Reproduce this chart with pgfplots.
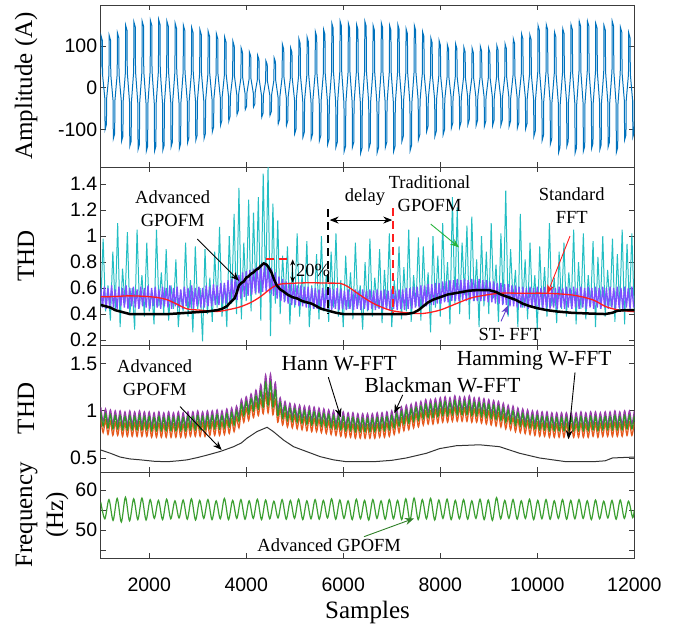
\documentclass[border=0pt]{standalone}
\usepackage{pgfplots}
\pgfplotsset{compat=1.18}
\usepackage{pgfplotstable}
\usepackage{fontspec}
\setmainfont{Liberation Serif}
\newfontfamily\sansf{Liberation Sans}
\usetikzlibrary{arrows.meta}

\definecolor{mblue}{RGB}{0,114,189}
\definecolor{mcyan}{RGB}{35,190,195}
\definecolor{stpurple}{RGB}{125,80,255}
\definecolor{mred}{RGB}{255,30,30}
\definecolor{hpurple}{RGB}{150,60,170}
\definecolor{bgreen}{RGB}{50,150,40}
\definecolor{horange}{RGB}{230,90,30}
\definecolor{fgreen}{RGB}{60,160,50}
\definecolor{agreen}{RGB}{40,180,60}
\definecolor{frame}{RGB}{60,60,60}

% frequency (Hz) of Advanced GPOFM
\pgfplotstableread{
s f
1000 57.0
1085 52.8
1170 57.6
1255 52.4
1340 57.9
1425 52.0
1510 58.2
1595 52.3
1680 57.8
1765 52.6
1850 58.0
1935 52.5
2020 57.6
2105 52.9
2190 57.4
2275 52.6
2360 57.7
2445 52.8
2530 57.3
2615 53.0
2700 57.5
2785 52.7
2870 57.8
2955 52.5
3040 57.4
3125 52.9
3210 57.6
3295 52.6
3380 57.3
3465 52.8
3550 57.9
3635 52.6
3720 57.4
3805 52.9
3890 57.6
3975 52.7
4060 57.3
4145 52.9
4230 57.7
4315 52.6
4400 57.5
4485 52.8
4570 57.2
4655 53.0
4740 57.6
4825 52.7
4910 57.4
4995 52.9
5080 57.7
5165 52.6
5250 57.3
5335 52.8
5420 57.6
5505 52.7
5590 57.4
5675 53.0
5760 57.8
5845 52.7
5930 57.5
6015 52.9
6100 57.3
6185 52.6
6270 57.7
6355 52.8
6440 57.4
6525 52.5
6610 57.6
6695 52.9
6780 57.3
6865 52.7
6950 57.6
7035 52.8
7120 57.4
7205 52.6
7290 57.8
7375 52.4
7460 58.0
7545 52.6
7630 57.6
7715 52.8
7800 57.9
7885 52.5
7970 57.5
8055 52.9
8140 57.7
8225 52.6
8310 57.4
8395 52.8
8480 57.6
8565 52.7
8650 57.3
8735 52.9
8820 57.7
8905 52.6
8990 57.5
9075 52.4
9160 58.1
9245 52.8
9330 57.4
9415 52.9
9500 57.6
9585 52.7
9670 57.3
9755 52.9
9840 57.7
9925 52.6
10010 57.4
10095 52.8
10180 57.6
10265 52.7
10350 57.3
10435 52.9
10520 57.6
10605 52.7
10690 57.4
10775 52.8
10860 57.6
10945 52.9
11030 57.3
11115 52.6
11200 57.5
11285 52.8
11370 57.2
11455 53.0
11540 57.4
11625 52.7
11710 57.5
11795 52.9
11880 57.2
11965 53.1
12000 55.0
}\fdata

% windowed FFT THD: Hann (h), Blackman (g), Hamming (o)
\pgfplotstableread{
s h g o
1000 1.04 0.99 0.92
1050 0.89 0.84 0.77
1100 1.02 0.97 0.90
1150 0.87 0.82 0.75
1200 1.01 0.96 0.89
1250 0.86 0.81 0.74
1300 1.00 0.95 0.88
1350 0.86 0.81 0.74
1400 1.00 0.95 0.88
1450 0.85 0.80 0.73
1500 0.99 0.94 0.87
1550 0.85 0.80 0.73
1600 1.00 0.95 0.88
1650 0.85 0.80 0.73
1700 0.99 0.94 0.87
1750 0.85 0.80 0.73
1800 1.00 0.95 0.88
1850 0.85 0.80 0.73
1900 0.99 0.94 0.87
1950 0.85 0.80 0.73
2000 0.99 0.94 0.87
2050 0.84 0.79 0.72
2100 0.98 0.93 0.86
2150 0.84 0.79 0.72
2200 0.99 0.94 0.87
2250 0.84 0.79 0.72
2300 0.98 0.93 0.86
2350 0.84 0.79 0.72
2400 0.99 0.94 0.87
2450 0.84 0.79 0.72
2500 0.98 0.93 0.86
2550 0.84 0.79 0.72
2600 0.99 0.94 0.87
2650 0.84 0.79 0.72
2700 0.98 0.93 0.86
2750 0.84 0.79 0.72
2800 0.99 0.94 0.87
2850 0.85 0.80 0.73
2900 0.99 0.94 0.87
2950 0.85 0.80 0.73
3000 1.00 0.95 0.88
3050 0.85 0.80 0.73
3100 0.99 0.94 0.87
3150 0.85 0.80 0.73
3200 1.00 0.95 0.88
3250 0.86 0.81 0.74
3300 1.00 0.95 0.88
3350 0.86 0.81 0.74
3400 1.01 0.96 0.89
3450 0.86 0.81 0.74
3500 1.00 0.95 0.88
3550 0.87 0.82 0.75
3600 1.02 0.97 0.90
3650 0.88 0.83 0.76
3700 1.03 0.98 0.91
3750 0.90 0.85 0.78
3800 1.05 1.00 0.93
3850 0.94 0.89 0.82
3900 1.12 1.07 1.00
3950 1.00 0.95 0.88
4000 1.15 1.10 1.03
4050 1.02 0.97 0.90
4100 1.18 1.13 1.06
4150 1.05 1.00 0.93
4200 1.22 1.16 1.09
4250 1.08 1.02 0.95
4300 1.28 1.21 1.12
4350 1.10 1.04 0.97
4400 1.38 1.30 1.18
4450 1.12 1.06 0.98
4500 1.39 1.30 1.18
4550 1.10 1.04 0.96
4600 1.30 1.22 1.12
4650 1.00 0.95 0.88
4700 1.14 1.09 1.02
4750 0.97 0.92 0.85
4800 1.10 1.05 0.98
4850 0.95 0.90 0.83
4900 1.08 1.03 0.96
4950 0.94 0.89 0.82
5000 1.07 1.02 0.95
5050 0.93 0.88 0.81
5100 1.06 1.01 0.94
5150 0.92 0.87 0.80
5200 1.05 1.00 0.93
5250 0.91 0.86 0.79
5300 1.05 1.00 0.93
5350 0.90 0.85 0.78
5400 1.04 0.99 0.92
5450 0.90 0.85 0.78
5500 1.03 0.98 0.91
5550 0.89 0.84 0.77
5600 1.02 0.97 0.90
5650 0.88 0.83 0.76
5700 1.01 0.96 0.89
5750 0.87 0.82 0.75
5800 1.00 0.95 0.88
5850 0.86 0.81 0.74
5900 0.99 0.94 0.87
5950 0.85 0.80 0.73
6000 0.99 0.94 0.87
6050 0.84 0.79 0.72
6100 0.98 0.93 0.86
6150 0.84 0.79 0.72
6200 0.98 0.93 0.86
6250 0.83 0.78 0.71
6300 0.97 0.92 0.85
6350 0.83 0.78 0.71
6400 0.97 0.92 0.85
6450 0.83 0.78 0.71
6500 0.97 0.92 0.85
6550 0.83 0.78 0.71
6600 0.97 0.92 0.85
6650 0.83 0.78 0.71
6700 0.98 0.93 0.86
6750 0.84 0.79 0.72
6800 0.98 0.93 0.86
6850 0.84 0.79 0.72
6900 0.99 0.94 0.87
6950 0.85 0.80 0.73
7000 1.00 0.95 0.88
7050 0.87 0.82 0.75
7100 1.02 0.97 0.90
7150 0.89 0.84 0.77
7200 1.04 0.99 0.92
7250 0.91 0.86 0.79
7300 1.06 1.01 0.94
7350 0.92 0.87 0.80
7400 1.07 1.02 0.95
7450 0.94 0.89 0.82
7500 1.09 1.04 0.97
7550 0.95 0.90 0.83
7600 1.10 1.05 0.98
7650 0.97 0.92 0.85
7700 1.12 1.07 1.00
7750 0.98 0.93 0.86
7800 1.12 1.07 1.00
7850 0.98 0.93 0.86
7900 1.13 1.08 1.01
7950 0.99 0.94 0.87
8000 1.14 1.09 1.02
8050 1.00 0.95 0.88
8100 1.15 1.10 1.03
8150 1.00 0.95 0.88
8200 1.14 1.09 1.02
8250 1.01 0.96 0.89
8300 1.16 1.11 1.04
8350 1.01 0.96 0.89
8400 1.15 1.10 1.03
8450 1.01 0.96 0.89
8500 1.15 1.10 1.03
8550 1.01 0.96 0.89
8600 1.16 1.11 1.04
8650 1.00 0.95 0.88
8700 1.14 1.09 1.02
8750 1.00 0.95 0.88
8800 1.14 1.09 1.02
8850 0.99 0.94 0.87
8900 1.13 1.08 1.01
8950 0.98 0.93 0.86
9000 1.12 1.07 1.00
9050 0.97 0.92 0.85
9100 1.11 1.06 0.99
9150 0.96 0.91 0.84
9200 1.10 1.05 0.98
9250 0.95 0.90 0.83
9300 1.08 1.03 0.96
9350 0.93 0.88 0.81
9400 1.06 1.01 0.94
9450 0.92 0.87 0.80
9500 1.05 1.00 0.93
9550 0.90 0.85 0.78
9600 1.03 0.98 0.91
9650 0.89 0.84 0.77
9700 1.02 0.97 0.90
9750 0.88 0.83 0.76
9800 1.01 0.96 0.89
9850 0.87 0.82 0.75
9900 1.00 0.95 0.88
9950 0.86 0.81 0.74
10000 1.00 0.95 0.88
10050 0.85 0.80 0.73
10100 0.99 0.94 0.87
10150 0.85 0.80 0.73
10200 0.99 0.94 0.87
10250 0.84 0.79 0.72
10300 0.98 0.93 0.86
10350 0.84 0.79 0.72
10400 0.98 0.93 0.86
10450 0.84 0.79 0.72
10500 0.98 0.93 0.86
10550 0.84 0.79 0.72
10600 0.98 0.93 0.86
10650 0.84 0.79 0.72
10700 0.98 0.93 0.86
10750 0.84 0.79 0.72
10800 0.98 0.93 0.86
10850 0.84 0.79 0.72
10900 0.99 0.94 0.87
10950 0.84 0.79 0.72
11000 0.98 0.93 0.86
11050 0.84 0.79 0.72
11100 0.99 0.94 0.87
11150 0.85 0.80 0.73
11200 0.99 0.94 0.87
11250 0.84 0.79 0.72
11300 0.98 0.93 0.86
11350 0.85 0.80 0.73
11400 0.99 0.94 0.87
11450 0.85 0.80 0.73
11500 0.99 0.94 0.87
11550 0.85 0.80 0.73
11600 1.00 0.95 0.88
11650 0.85 0.80 0.73
11700 0.99 0.94 0.87
11750 0.85 0.80 0.73
11800 1.00 0.95 0.88
11850 0.86 0.81 0.74
11900 1.00 0.95 0.88
11950 0.86 0.81 0.74
12000 1.00 0.95 0.88
}\wdata

\newcommand{\tickfont}{\fontsize{19.5}{23}\selectfont\sansf}
\newcommand{\labfont}{\fontsize{25}{31}\selectfont}
\newcommand{\annfont}{\fontsize{18.5}{23}\selectfont}
\newcommand{\annfontb}{\fontsize{21.5}{25}\selectfont}

\tikzset{arr/.style={-{Stealth[length=9pt,width=7pt]}, line width=0.9pt}}

\pgfplotsset{
  panel/.style={
    scale only axis, width=533.6pt, anchor=south west,
    xmin=1000, xmax=12000, scaled x ticks=false, scaled y ticks=false,
    xtick={2000,4000,6000,8000,10000,12000}, xticklabels={},
    tick align=inside, major tick length=5pt,
    axis line style={draw=frame, line width=0.9pt},
    every tick/.style={draw=frame, line width=0.9pt},
    tick label style={font=\tickfont},
    every axis y label/.style={at={(axis description cs:-0.14,0.5)}, rotate=90, anchor=center, font=\labfont},
    clip mode=individual,
  },
}

\begin{document}
\begin{tikzpicture}
\useasboundingbox (0,0) rectangle (696pt,625pt);

% ---------------- Panel 1
\begin{axis}[panel, at={(100.7pt,458pt)}, height=162pt,
  ymin=-190, ymax=199, ytick={-100,0,100}, yticklabels={-100,0,100},
  ylabel={Amplitude (A)}]
\addplot[mblue, line width=1pt] coordinates {
(1000,32)(1005,126)(1033,114)(1038,32)(1085,-25)(1090,-100)(1118,-88)(1123,-25)
(1170,32)(1175,126)(1203,114)(1208,32)(1255,-31)(1260,-122)(1288,-110)(1293,-31)
(1340,33)(1345,132)(1373,120)(1378,33)(1425,-32)(1430,-128)(1458,-116)(1463,-32)
(1510,38)(1515,150)(1543,138)(1548,38)(1595,-35)(1600,-140)(1628,-128)(1633,-35)
(1680,40)(1685,158)(1713,146)(1718,40)(1765,-37)(1770,-148)(1798,-136)(1803,-37)
(1850,40)(1855,160)(1883,148)(1888,40)(1935,-38)(1940,-152)(1968,-140)(1973,-38)
(2020,41)(2025,162)(2053,150)(2058,41)(2105,-38)(2110,-152)(2138,-140)(2143,-38)
(2190,41)(2195,164)(2223,152)(2228,41)(2275,-38)(2280,-150)(2308,-138)(2313,-38)
(2360,40)(2365,160)(2393,148)(2398,40)(2445,-36)(2450,-142)(2478,-130)(2483,-36)
(2530,39)(2535,155)(2563,143)(2568,39)(2615,-37)(2620,-146)(2648,-134)(2653,-37)
(2700,38)(2705,150)(2733,138)(2738,38)(2785,-33)(2790,-132)(2818,-120)(2823,-33)
(2870,36)(2875,145)(2903,133)(2908,36)(2955,-32)(2960,-126)(2988,-114)(2993,-32)
(3040,35)(3045,140)(3073,128)(3078,35)(3125,-31)(3130,-122)(3158,-110)(3163,-31)
(3210,34)(3215,136)(3243,124)(3248,34)(3295,-27)(3300,-106)(3328,-94)(3333,-27)
(3380,33)(3385,130)(3413,118)(3418,33)(3465,-23)(3470,-90)(3498,-78)(3503,-23)
(3550,31)(3555,122)(3583,110)(3588,31)(3635,-20)(3640,-80)(3668,-68)(3673,-20)
(3720,28)(3725,112)(3753,100)(3758,28)(3805,-16)(3810,-64)(3838,-54)(3843,-16)
(3890,24)(3895,96)(3923,85)(3928,24)(3975,-13)(3980,-52)(4008,-44)(4013,-13)
(4060,22)(4065,86)(4093,76)(4098,22)(4145,-12)(4150,-46)(4178,-38)(4183,-12)
(4230,20)(4235,78)(4263,68)(4268,20)(4315,-18)(4320,-70)(4348,-60)(4353,-18)
(4400,16)(4405,65)(4433,56)(4438,16)(4485,-17)(4490,-66)(4518,-57)(4523,-17)
(4570,18)(4575,72)(4603,62)(4608,18)(4655,-22)(4660,-86)(4688,-76)(4693,-22)
(4740,26)(4745,105)(4773,93)(4778,26)(4825,-23)(4830,-90)(4858,-78)(4863,-23)
(4910,24)(4915,96)(4943,85)(4948,24)(4995,-28)(5000,-110)(5028,-98)(5033,-28)
(5080,30)(5085,118)(5113,106)(5118,30)(5165,-30)(5170,-118)(5198,-106)(5203,-30)
(5250,31)(5255,122)(5283,110)(5288,31)(5335,-31)(5340,-122)(5368,-110)(5373,-31)
(5420,34)(5425,135)(5453,123)(5458,34)(5505,-32)(5510,-126)(5538,-114)(5543,-32)
(5590,35)(5595,140)(5623,128)(5628,35)(5675,-34)(5680,-135)(5708,-123)(5713,-34)
(5760,39)(5765,155)(5793,143)(5798,39)(5845,-36)(5850,-142)(5878,-130)(5883,-36)
(5930,40)(5935,160)(5963,148)(5968,40)(6015,-38)(6020,-152)(6048,-140)(6053,-38)
(6100,39)(6105,155)(6133,143)(6138,39)(6185,-36)(6190,-142)(6218,-130)(6223,-36)
(6270,38)(6275,152)(6303,140)(6308,38)(6355,-39)(6360,-156)(6388,-144)(6393,-39)
(6440,40)(6445,160)(6473,148)(6478,40)(6525,-36)(6530,-145)(6558,-133)(6563,-36)
(6610,38)(6615,150)(6643,138)(6648,38)(6695,-39)(6700,-155)(6728,-143)(6733,-39)
(6780,39)(6785,156)(6813,144)(6818,39)(6865,-36)(6870,-142)(6898,-130)(6903,-36)
(6950,38)(6955,150)(6983,138)(6988,38)(7035,-38)(7040,-152)(7068,-140)(7073,-38)
(7120,38)(7125,152)(7153,140)(7158,38)(7205,-32)(7210,-128)(7238,-116)(7243,-32)
(7290,36)(7295,142)(7323,130)(7328,36)(7375,-38)(7380,-150)(7408,-138)(7413,-38)
(7460,38)(7465,150)(7493,138)(7498,38)(7545,-31)(7550,-124)(7578,-112)(7583,-31)
(7630,34)(7635,135)(7663,123)(7668,34)(7715,-26)(7720,-104)(7748,-92)(7753,-26)
(7800,30)(7805,120)(7833,108)(7838,30)(7885,-29)(7890,-116)(7918,-104)(7923,-29)
(7970,29)(7975,114)(8003,102)(8008,29)(8055,-28)(8060,-112)(8088,-100)(8093,-28)
(8140,26)(8145,104)(8173,92)(8178,26)(8225,-24)(8230,-96)(8258,-84)(8263,-24)
(8310,27)(8315,106)(8343,94)(8348,27)(8395,-24)(8400,-94)(8428,-82)(8433,-24)
(8480,25)(8485,98)(8513,86)(8518,25)(8565,-22)(8570,-88)(8598,-76)(8603,-22)
(8650,24)(8655,96)(8683,84)(8688,24)(8735,-23)(8740,-90)(8768,-78)(8773,-23)
(8820,25)(8825,100)(8853,88)(8858,25)(8905,-23)(8910,-92)(8938,-80)(8943,-23)
(8990,24)(8995,96)(9023,84)(9028,24)(9075,-23)(9080,-90)(9108,-78)(9113,-23)
(9160,26)(9165,102)(9193,90)(9198,26)(9245,-23)(9250,-90)(9278,-78)(9283,-23)
(9330,27)(9335,106)(9363,94)(9368,27)(9415,-23)(9420,-92)(9448,-80)(9453,-23)
(9500,30)(9505,118)(9533,106)(9538,30)(9585,-24)(9590,-96)(9618,-84)(9623,-24)
(9670,33)(9675,130)(9703,118)(9708,33)(9755,-25)(9760,-98)(9788,-86)(9793,-25)
(9840,32)(9845,128)(9873,116)(9878,32)(9925,-29)(9930,-116)(9958,-104)(9963,-29)
(10010,38)(10015,150)(10043,138)(10048,38)(10095,-32)(10100,-126)(10128,-114)(10133,-32)
(10180,38)(10185,152)(10213,140)(10218,38)(10265,-34)(10270,-135)(10298,-123)(10303,-34)
(10350,34)(10355,134)(10383,122)(10388,34)(10435,-39)(10440,-155)(10468,-143)(10473,-39)
(10520,36)(10525,142)(10553,130)(10558,36)(10605,-35)(10610,-140)(10638,-128)(10643,-35)
(10690,38)(10695,152)(10723,140)(10728,38)(10775,-39)(10780,-156)(10808,-144)(10813,-39)
(10860,40)(10865,160)(10893,148)(10898,40)(10945,-38)(10950,-152)(10978,-140)(10983,-38)
(11030,40)(11035,160)(11063,148)(11068,40)(11115,-36)(11120,-145)(11148,-133)(11153,-36)
(11200,39)(11205,155)(11233,143)(11238,39)(11285,-37)(11290,-148)(11318,-136)(11323,-37)
(11370,38)(11375,150)(11403,138)(11408,38)(11455,-36)(11460,-142)(11488,-130)(11493,-36)
(11540,40)(11545,160)(11573,148)(11578,40)(11625,-39)(11630,-155)(11658,-143)(11663,-39)
(11710,36)(11715,145)(11743,133)(11748,36)(11795,-31)(11800,-125)(11828,-113)(11833,-31)
(11880,33)(11885,132)(11913,120)(11918,33)(11965,-30)(11970,-118)(11998,-106)(12003,-30)
};
\end{axis}

% ---------------- Panel 2
\begin{axis}[panel, at={(100.7pt,280pt)}, height=178pt,
  ymin=0.162, ymax=1.531, ytick={0.2,0.4,0.6,0.8,1,1.2,1.4},
  yticklabels={0.2,0.4,0.6,0.8,1,1.2,1.4}, ylabel={THD}]
\addplot[mcyan, line width=1pt] coordinates {
(1000,0.45)(1050,0.98)(1100,0.42)(1150,0.62)(1200,0.35)(1250,0.88)(1300,0.44)(1350,1.10)(1400,0.30)(1450,0.75)
(1500,0.48)(1550,1.03)(1600,0.40)(1650,0.60)(1700,0.28)(1750,1.05)(1800,0.45)(1850,0.70)(1900,0.38)(1950,0.95)
(2000,0.42)(2050,0.58)(2100,0.32)(2150,1.05)(2200,0.46)(2250,0.72)(2300,0.40)(2350,0.90)(2400,0.35)(2450,0.62)
(2500,0.44)(2550,0.82)(2600,0.30)(2650,0.58)(2700,0.42)(2750,0.95)(2800,0.38)(2850,0.66)(2900,0.26)(2950,0.92)
(3000,0.44)(3050,0.60)(3100,0.19)(3150,0.90)(3200,0.40)(3250,0.68)(3300,0.34)(3350,0.88)(3400,0.45)(3450,1.07)
(3500,0.38)(3550,0.64)(3600,0.30)(3650,1.00)(3700,0.48)(3750,1.17)(3800,0.40)(3850,1.37)(3900,0.36)(3950,0.95)
(4000,0.50)(4050,1.28)(4100,0.42)(4150,1.18)(4200,0.55)(4250,1.30)(4300,0.35)(4350,1.48)(4400,0.60)(4450,1.53)
(4500,0.23)(4550,1.25)(4600,0.48)(4650,1.12)(4700,0.40)(4750,0.85)(4800,0.50)(4850,0.92)(4900,0.32)(4950,0.78)
(5000,0.45)(5050,1.02)(5100,0.38)(5150,0.70)(5200,0.48)(5250,0.96)(5300,0.30)(5350,0.62)(5400,0.44)(5450,0.86)
(5500,0.36)(5550,1.00)(5600,0.42)(5650,0.70)(5700,0.34)(5750,0.88)(5800,0.45)(5850,1.02)(5900,0.38)(5950,0.66)
(6000,0.30)(6050,0.85)(6100,0.44)(6150,0.72)(6200,0.36)(6250,0.95)(6300,0.46)(6350,0.62)(6400,0.28)(6450,0.80)
(6500,0.42)(6550,0.98)(6600,0.38)(6650,0.68)(6700,0.45)(6750,0.90)(6800,0.33)(6850,0.74)(6900,0.44)(6950,1.02)
(7000,0.30)(7050,0.66)(7100,0.46)(7150,0.92)(7200,0.36)(7250,0.76)(7300,0.42)(7350,1.05)(7400,0.34)(7450,0.70)
(7500,0.46)(7550,0.99)(7600,0.35)(7650,0.92)(7700,0.48)(7750,0.72)(7800,0.26)(7850,1.00)(7900,0.45)(7950,0.85)
(8000,0.38)(8050,1.10)(8100,0.50)(8150,0.80)(8200,0.32)(8250,1.30)(8300,0.48)(8350,1.22)(8400,0.40)(8450,0.95)
(8500,0.55)(8550,1.08)(8600,0.36)(8650,1.15)(8700,0.50)(8750,0.82)(8800,0.30)(8850,1.00)(8900,0.46)(8950,0.88)
(9000,0.40)(9050,1.10)(9100,0.52)(9150,0.78)(9200,0.34)(9250,1.02)(9300,0.48)(9350,1.35)(9400,0.38)(9450,0.90)
(9500,0.50)(9550,0.74)(9600,0.30)(9650,1.17)(9700,0.45)(9750,0.82)(9800,0.36)(9850,0.95)(9900,0.46)(9950,0.70)
(10000,0.28)(10050,0.92)(10100,0.44)(10150,0.76)(10200,0.38)(10250,1.10)(10300,0.46)(10350,0.68)(10400,0.33)(10450,0.88)
(10500,0.44)(10550,0.95)(10600,0.38)(10650,0.72)(10700,0.46)(10750,1.05)(10800,0.32)(10850,0.80)(10900,0.44)(10950,1.02)
(11000,0.36)(11050,0.70)(11100,0.46)(11150,0.96)(11200,0.30)(11250,0.84)(11300,0.44)(11350,1.00)(11400,0.38)(11450,0.74)
(11500,0.46)(11550,0.98)(11600,0.34)(11650,0.86)(11700,0.44)(11750,1.05)(11800,0.32)(11850,0.94)(11900,0.46)(11950,1.02)
(12000,0.40)
};
% ST-FFT
\addplot[stpurple, line width=1.3pt] coordinates {
(1000,.60)(1037.5,.45)(1075,.61)(1112.5,.44)(1150,.60)(1187.5,.46)(1225,.62)(1262.5,.45)(1300,.59)(1337.5,.44)
(1375,.61)(1412.5,.46)(1450,.60)(1487.5,.45)(1525,.62)(1562.5,.44)(1600,.60)(1637.5,.46)(1675,.61)(1712.5,.45)
(1750,.59)(1787.5,.44)(1825,.61)(1862.5,.46)(1900,.60)(1937.5,.45)(1975,.62)(2012.5,.44)(2050,.60)(2087.5,.46)
(2125,.61)(2162.5,.45)(2200,.59)(2237.5,.44)(2275,.61)(2312.5,.46)(2350,.60)(2387.5,.45)(2425,.62)(2462.5,.44)
(2500,.60)(2537.5,.46)(2575,.61)(2612.5,.45)(2650,.59)(2687.5,.44)(2725,.61)(2762.5,.46)(2800,.60)(2837.5,.45)
(2875,.62)(2912.5,.44)(2950,.60)(2987.5,.46)(3025,.61)(3062.5,.45)(3100,.60)(3137.5,.45)(3175,.62)(3212.5,.46)
(3250,.61)(3287.5,.46)(3325,.63)(3362.5,.47)(3400,.62)(3437.5,.47)(3475,.64)(3512.5,.48)(3550,.64)(3587.5,.48)
(3625,.66)(3662.5,.49)(3700,.67)(3737.5,.50)(3775,.69)(3812.5,.51)(3850,.70)(3887.5,.52)(3925,.72)(3962.5,.53)
(4000,.73)(4037.5,.54)(4075,.74)(4112.5,.55)(4150,.75)(4187.5,.56)(4225,.76)(4262.5,.56)(4300,.77)(4337.5,.57)
(4375,.78)(4412.5,.57)(4450,.77)(4487.5,.56)(4525,.75)(4562.5,.54)(4600,.72)(4637.5,.52)(4675,.69)(4712.5,.50)
(4750,.67)(4787.5,.49)(4825,.65)(4862.5,.48)(4900,.64)(4937.5,.47)(4975,.63)(5012.5,.47)(5050,.62)(5087.5,.46)
(5125,.62)(5162.5,.46)(5200,.61)(5237.5,.45)(5275,.61)(5312.5,.45)(5350,.60)(5387.5,.44)(5425,.60)(5462.5,.44)
(5500,.59)(5537.5,.44)(5575,.60)(5612.5,.43)(5650,.59)(5687.5,.44)(5725,.60)(5762.5,.43)(5800,.59)(5837.5,.44)
(5875,.60)(5912.5,.43)(5950,.59)(5987.5,.44)(6025,.58)(6062.5,.43)(6100,.59)(6137.5,.44)(6175,.58)(6212.5,.43)
(6250,.59)(6287.5,.44)(6325,.58)(6362.5,.43)(6400,.59)(6437.5,.44)(6475,.58)(6512.5,.43)(6550,.59)(6587.5,.44)
(6625,.58)(6662.5,.43)(6700,.59)(6737.5,.44)(6775,.58)(6812.5,.43)(6850,.59)(6887.5,.44)(6925,.58)(6962.5,.43)
(7000,.59)(7037.5,.44)(7075,.58)(7112.5,.43)(7150,.59)(7187.5,.44)(7225,.59)(7262.5,.43)(7300,.60)(7337.5,.44)
(7375,.60)(7412.5,.44)(7450,.61)(7487.5,.45)(7525,.61)(7562.5,.45)(7600,.62)(7637.5,.46)(7675,.62)(7712.5,.46)
(7750,.63)(7787.5,.47)(7825,.63)(7862.5,.47)(7900,.64)(7937.5,.48)(7975,.64)(8012.5,.48)(8050,.65)(8087.5,.49)
(8125,.65)(8162.5,.49)(8200,.66)(8237.5,.50)(8275,.66)(8312.5,.50)(8350,.67)(8387.5,.50)(8425,.66)(8462.5,.51)
(8500,.67)(8537.5,.50)(8575,.66)(8612.5,.51)(8650,.67)(8687.5,.50)(8725,.66)(8762.5,.50)(8800,.67)(8837.5,.50)
(8875,.66)(8912.5,.50)(8950,.66)(8987.5,.49)(9025,.65)(9062.5,.49)(9100,.65)(9137.5,.48)(9175,.64)(9212.5,.48)
(9250,.64)(9287.5,.47)(9325,.63)(9362.5,.47)(9400,.63)(9437.5,.46)(9475,.62)(9512.5,.46)(9550,.62)(9587.5,.45)
(9625,.61)(9662.5,.45)(9700,.61)(9737.5,.45)(9775,.60)(9812.5,.44)(9850,.61)(9887.5,.45)(9925,.60)(9962.5,.44)
(10000,.61)(10037.5,.45)(10075,.60)(10112.5,.44)(10150,.61)(10187.5,.45)(10225,.60)(10262.5,.44)(10300,.61)(10337.5,.45)
(10375,.60)(10412.5,.44)(10450,.61)(10487.5,.45)(10525,.60)(10562.5,.44)(10600,.61)(10637.5,.45)(10675,.60)(10712.5,.44)
(10750,.61)(10787.5,.45)(10825,.60)(10862.5,.44)(10900,.61)(10937.5,.45)(10975,.60)(11012.5,.44)(11050,.61)(11087.5,.45)
(11125,.60)(11162.5,.44)(11200,.61)(11237.5,.45)(11275,.60)(11312.5,.44)(11350,.61)(11387.5,.45)(11425,.60)(11462.5,.44)
(11500,.61)(11537.5,.45)(11575,.60)(11612.5,.44)(11650,.61)(11687.5,.45)(11725,.60)(11762.5,.44)(11800,.61)(11837.5,.45)
(11875,.60)(11912.5,.44)(11950,.61)(11987.5,.45)
};
\addplot[mred, line width=1.3pt, smooth] coordinates {
(1000,0.533)(1300,0.535)(1550,0.54)(1800,0.538)(2030,0.533)(2200,0.525)(2370,0.51)(2550,0.48)(2780,0.44)
(3050,0.43)(3400,0.42)(3650,0.435)(3880,0.456)(4100,0.49)(4290,0.533)(4450,0.58)(4560,0.61)(4700,0.63)
(4900,0.636)(5200,0.64)(5450,0.64)(5700,0.638)(5934,0.636)(6050,0.62)(6140,0.60)(6346,0.546)(6620,0.482)
(6960,0.43)(7300,0.41)(7650,0.405)(7990,0.43)(8330,0.48)(8600,0.52)(8810,0.538)(9224,0.56)(9700,0.56)
(10180,0.56)(10730,0.546)(11140,0.51)(11420,0.456)(11690,0.43)(12000,0.418)
};
\addplot[black, line width=2.5pt] coordinates {
(1000,0.47)(1100,0.46)(1200,0.45)(1300,0.43)(1400,0.42)(1500,0.41)(1600,0.40)(1800,0.40)(2000,0.40)(2200,0.40)
(2400,0.40)(2600,0.405)(2800,0.41)(3000,0.415)(3200,0.42)(3400,0.43)(3500,0.44)(3600,0.46)(3700,0.50)(3760,0.52)
(3800,0.56)(3850,0.62)(3900,0.64)(3950,0.65)(4000,0.68)(4050,0.69)(4100,0.71)(4150,0.72)(4200,0.74)(4250,0.75)
(4300,0.77)(4360,0.79)(4420,0.78)(4460,0.76)(4520,0.72)(4580,0.66)(4630,0.62)(4700,0.59)(4780,0.57)(4850,0.55)
(4950,0.53)(5050,0.52)(5150,0.50)(5250,0.49)(5350,0.48)(5450,0.46)(5550,0.44)(5650,0.43)(5750,0.42)(5850,0.41)
(6000,0.40)(6500,0.40)(7000,0.40)(7300,0.40)(7450,0.41)(7550,0.43)(7650,0.46)(7750,0.49)(7850,0.51)(8000,0.53)
(8150,0.55)(8300,0.56)(8450,0.57)(8600,0.58)(8800,0.585)(9000,0.585)(9150,0.57)(9250,0.55)(9400,0.53)(9550,0.51)
(9700,0.48)(9850,0.46)(10000,0.445)(10200,0.43)(10400,0.42)(10700,0.41)(11000,0.405)(11400,0.40)(11550,0.41)
(11650,0.425)(11800,0.43)(12000,0.43)
};
% annotations
\node[font=\annfont, align=center] at (axis cs:2484,1.21) {Advanced\\GPOFM};
\draw[arr] (axis cs:2992,0.977) -- (axis cs:3851,0.656);
\node[font=\annfont, align=center] at (axis cs:7780,1.328) {Traditional\\GPOFM};
\draw[arr, agreen] (axis cs:7803,1.092) -- (axis cs:8387,0.913);
\node[font=\annfont, align=center] at (axis cs:10710,1.231) {Standard\\FFT};
\draw[arr, mred] (axis cs:10675,1.0) -- (axis cs:10207,0.556);
\node[font=\annfont] at (axis cs:9437,0.24) {ST- FFT};
\draw[arr, stpurple!80!black] (axis cs:9252,0.344) -- (axis cs:9403,0.468);
\node[font=\annfont] at (axis cs:6449,1.30) {delay};
\draw[{Stealth[length=9pt,width=7pt]}-{Stealth[length=9pt,width=7pt]}, line width=0.9pt] (axis cs:5720,1.123) -- (axis cs:7010,1.123);
\draw[black, line width=2pt, dash pattern=on 8pt off 5pt] (axis cs:5692,1.205) -- (axis cs:5692,0.40);
\draw[mred, line width=2pt, dash pattern=on 8pt off 5pt] (axis cs:7032,1.213) -- (axis cs:7032,0.405);
\draw[mred, line width=2pt, dash pattern=on 8pt off 5pt] (axis cs:4408,0.82) -- (axis cs:4847,0.82);
\draw[{Stealth[length=6pt,width=5pt]}-{Stealth[length=6pt,width=5pt]}, line width=0.9pt] (axis cs:4958,0.82) -- (axis cs:4958,0.642);
\node[font=\annfont] at (axis cs:5377,0.738) {20\%};
\end{axis}

% ---------------- Panel 3
\begin{axis}[panel, at={(100.7pt,153pt)}, height=127pt,
  ymin=0.351, ymax=1.70, ytick={0.5,1,1.5}, yticklabels={0.5,1,1.5}, ylabel={THD}]
\addplot[hpurple, line width=1.3pt, smooth] table[x=s, y=h] {\wdata};
\addplot[horange, line width=1.3pt, smooth] table[x=s, y=o] {\wdata};
\addplot[bgreen, line width=1.3pt, smooth] table[x=s, y=g] {\wdata};
\addplot[black!80, line width=1pt] coordinates {
(1000,0.585)(1200,0.55)(1400,0.51)(1600,0.49)(1822,0.48)(2100,0.465)(2370,0.46)(2600,0.47)(2780,0.48)(3000,0.505)
(3190,0.53)(3470,0.57)(3740,0.62)(3900,0.66)(4015,0.71)(4220,0.78)(4430,0.826)(4560,0.78)(4770,0.69)(4975,0.62)
(5250,0.567)(5525,0.514)(5800,0.48)(6070,0.46)(6620,0.46)(7000,0.475)(7300,0.50)(7715,0.55)(7990,0.60)(8330,0.63)
(8810,0.64)(9220,0.62)(9635,0.55)(10046,0.50)(10600,0.46)(11140,0.46)(11400,0.47)(11550,0.50)(12000,0.51)
};
\node[font=\annfont, align=center] at (axis cs:2113,1.348) {Advanced\\GPOFM};
\draw[arr] (axis cs:2635,1.046) -- (axis cs:3494,0.585);
\node[font=\annfontb] at (axis cs:5917,1.507) {Hann W-FFT};
\draw[arr] (axis cs:5692,1.358) -- (axis cs:5948,0.933);
\node[font=\annfontb] at (axis cs:8046,1.27) {Blackman W-FFT};
\draw[arr] (axis cs:7226,1.17) -- (axis cs:7053,0.975);
\node[font=\annfontb] at (axis cs:9936,1.535) {Hamming W-FFT};
\draw[arr] (axis cs:10778,1.41) -- (axis cs:10640,0.70);
\end{axis}

% ---------------- Panel 4
\begin{axis}[panel, at={(100.7pt,67pt)}, height=86pt,
  ymin=43, ymax=64.5, ytick={45,50,55,60}, yticklabels={,50,,60},
  every axis y label/.style={at={(axis description cs:-0.11,0.5)}, rotate=90, anchor=center, font=\labfont, align=center},
  ylabel={Frequency\\(Hz)},
  xticklabels={2000,4000,6000,8000,10000,12000},
  xticklabel style={anchor=base, yshift=-33pt},
  every axis x label/.style={at={(axis description cs:0.5,0)}, anchor=base, yshift=-60pt, font=\labfont},
  xlabel={Samples}]
\addplot[fgreen, line width=1.2pt, smooth] table[x=s, y=f] {\fdata};
\node[font=\annfont] at (axis cs:5710,46.25) {Advanced GPOFM};
\draw[arr, fgreen!80!black] (axis cs:6428,48.33) -- (axis cs:7459,52.9);
\end{axis}
\end{tikzpicture}
\end{document}
